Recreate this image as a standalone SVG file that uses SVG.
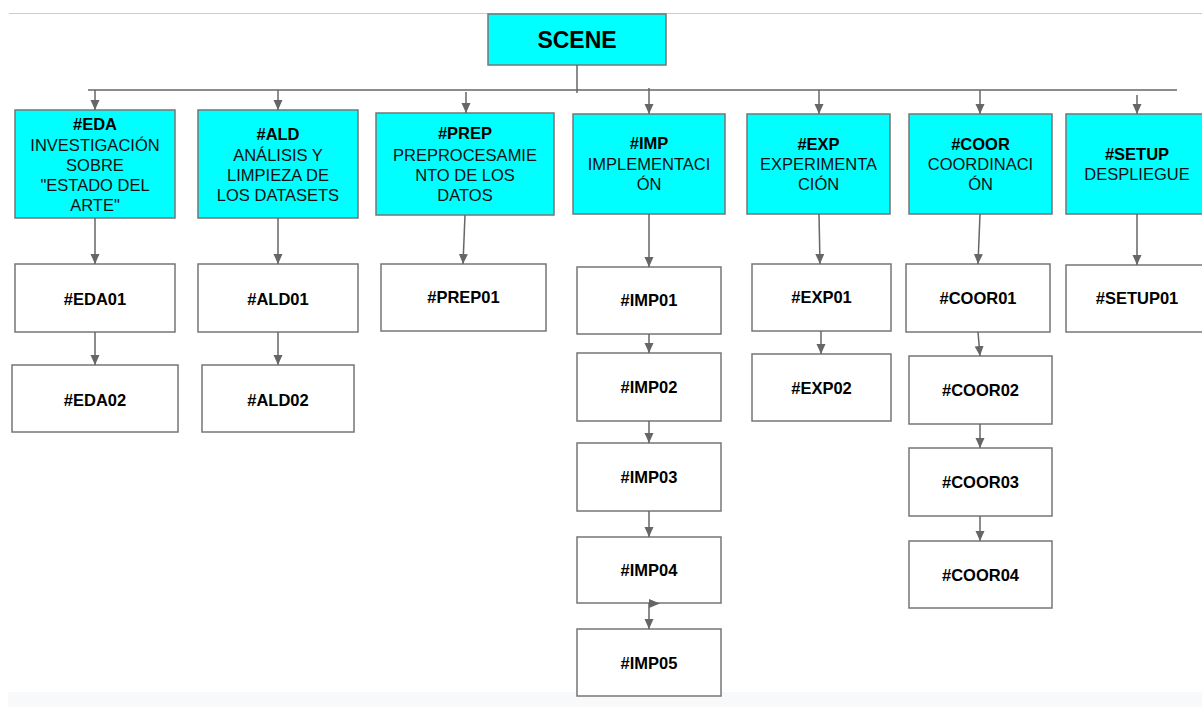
<svg xmlns="http://www.w3.org/2000/svg" width="1202" height="707" viewBox="0 0 1202 707">
  <style>
    .hdr { fill: #00ffff; stroke: #767676; stroke-width: 1.5; }
    .box { fill: #ffffff; stroke: #767676; stroke-width: 1.5; }
    .t { font-family: "Liberation Sans", Arial, sans-serif; font-size: 16.5px; text-anchor: middle; fill: #111; }
    .b { font-weight: bold; fill: #000; }
    .conn { stroke: #666666; stroke-width: 1.5; fill: none; }
    .link { marker-end: url(#arrow); }
  </style>
  <defs>
    <marker id="arrow" markerUnits="userSpaceOnUse" markerWidth="10" markerHeight="10" refX="10" refY="4.5" orient="auto">
      <path d="M0,0 L10,4.5 L0,9 Z" fill="#666666"/>
    </marker>
  </defs>

  <rect x="0" y="0" width="1202" height="707" fill="#ffffff"/>
  <line x1="9" y1="13.5" x2="1202" y2="13.5" stroke="#cccccc" stroke-width="1"/>
  <rect x="8" y="692" width="1194" height="15" fill="#f8f9fa"/>

  <g id="scene">
    <rect class="hdr" x="488" y="14" width="178" height="51"/>
    <text class="t b" x="577" y="48" style="font-size:23px">SCENE</text>
  </g>

  <g id="eda">
    <rect class="hdr" x="15" y="110" width="160" height="108"/>
    <text class="t b" x="95" y="130">#EDA</text>
    <text class="t" x="95" y="151">INVESTIGACIÓN</text>
    <text class="t" x="95" y="171">SOBRE</text>
    <text class="t" x="95" y="191">"ESTADO DEL</text>
    <text class="t" x="95" y="211">ARTE"</text>
  </g>
  <g id="ald">
    <rect class="hdr" x="198" y="110" width="160" height="108"/>
    <text class="t b" x="278" y="140">#ALD</text>
    <text class="t" x="278" y="161">ANÁLISIS Y</text>
    <text class="t" x="278" y="181">LIMPIEZA DE</text>
    <text class="t" x="278" y="201">LOS DATASETS</text>
  </g>
  <g id="prep">
    <rect class="hdr" x="376" y="113" width="178" height="102"/>
    <text class="t b" x="465" y="139">#PREP</text>
    <text class="t" x="465" y="161">PREPROCESAMIE</text>
    <text class="t" x="465" y="181">NTO DE LOS</text>
    <text class="t" x="465" y="201">DATOS</text>
  </g>
  <g id="imp">
    <rect class="hdr" x="573" y="114" width="152" height="100"/>
    <text class="t b" x="649" y="149">#IMP</text>
    <text class="t" x="649" y="170">IMPLEMENTACI</text>
    <text class="t" x="649" y="190">ÓN</text>
  </g>
  <g id="exp">
    <rect class="hdr" x="747" y="114" width="143" height="100"/>
    <text class="t b" x="818.5" y="150">#EXP</text>
    <text class="t" x="818.5" y="170">EXPERIMENTA</text>
    <text class="t" x="818.5" y="190">CIÓN</text>
  </g>
  <g id="coor">
    <rect class="hdr" x="909" y="114" width="143" height="100"/>
    <text class="t b" x="980.5" y="150">#COOR</text>
    <text class="t" x="980.5" y="170">COORDINACI</text>
    <text class="t" x="980.5" y="190">ÓN</text>
  </g>
  <g id="setup">
    <rect class="hdr" x="1066" y="114" width="143" height="100"/>
    <text class="t b" x="1137" y="160">#SETUP</text>
    <text class="t" x="1137" y="180">DESPLIEGUE</text>
  </g>

  <g id="eda01"><rect class="box" x="15" y="264" width="160" height="68"/><text class="t b" x="95" y="305">#EDA01</text></g>
  <g id="eda02"><rect class="box" x="12" y="365" width="166" height="67"/><text class="t b" x="95" y="406">#EDA02</text></g>
  <g id="ald01"><rect class="box" x="198" y="264" width="160" height="68"/><text class="t b" x="278" y="305">#ALD01</text></g>
  <g id="ald02"><rect class="box" x="202" y="365" width="152" height="67"/><text class="t b" x="278" y="406">#ALD02</text></g>
  <g id="prep01"><rect class="box" x="381" y="264" width="165" height="67"/><text class="t b" x="463.5" y="303">#PREP01</text></g>

  <g id="imp01"><rect class="box" x="577" y="267" width="144" height="67"/><text class="t b" x="649" y="306">#IMP01</text></g>
  <g id="imp02"><rect class="box" x="577" y="353" width="144" height="68"/><text class="t b" x="649" y="393">#IMP02</text></g>
  <g id="imp03"><rect class="box" x="577" y="443" width="144" height="68"/><text class="t b" x="649" y="483">#IMP03</text></g>
  <g id="imp04"><rect class="box" x="577" y="537" width="144" height="66"/><text class="t b" x="649" y="576">#IMP04</text></g>
  <g id="imp05"><rect class="box" x="577" y="629" width="144" height="67"/><text class="t b" x="649" y="669">#IMP05</text></g>

  <g id="exp01"><rect class="box" x="752" y="264" width="139" height="67"/><text class="t b" x="821.5" y="303">#EXP01</text></g>
  <g id="exp02"><rect class="box" x="752" y="354" width="139" height="67"/><text class="t b" x="821.5" y="394">#EXP02</text></g>

  <g id="coor01"><rect class="box" x="906" y="264" width="144" height="68"/><text class="t b" x="978" y="304">#COOR01</text></g>
  <g id="coor02"><rect class="box" x="909" y="356" width="143" height="68"/><text class="t b" x="980.5" y="396">#COOR02</text></g>
  <g id="coor03"><rect class="box" x="909" y="448" width="143" height="68"/><text class="t b" x="980.5" y="488">#COOR03</text></g>
  <g id="coor04"><rect class="box" x="909" y="541" width="143" height="67"/><text class="t b" x="980.5" y="581">#COOR04</text></g>

  <g id="setup01"><rect class="box" x="1066" y="265" width="143" height="67"/><text class="t b" x="1137" y="304">#SETUP01</text></g>

  <!-- connectors drawn on top so the start marker of IMP04→IMP05 shows over the box edge -->
  <g id="connectors">
    <line class="conn" x1="577" y1="65" x2="577" y2="93"/>
    <line class="conn" x1="88" y1="90" x2="1177" y2="90"/>
    <line class="conn link" x1="95" y1="90" x2="95" y2="110"/>
    <line class="conn link" x1="278" y1="90" x2="278" y2="110"/>
    <line class="conn link" x1="466" y1="92" x2="466" y2="113"/>
    <line class="conn link" x1="649" y1="88" x2="649" y2="114"/>
    <line class="conn link" x1="819" y1="90" x2="819" y2="114"/>
    <line class="conn link" x1="980" y1="90" x2="980" y2="114"/>
    <line class="conn link" x1="1137" y1="95" x2="1137" y2="114"/>

    <line class="conn link" x1="95" y1="218" x2="95" y2="264"/>
    <line class="conn link" x1="95" y1="332" x2="95" y2="365"/>
    <line class="conn link" x1="278" y1="218" x2="278" y2="264"/>
    <line class="conn link" x1="278" y1="332" x2="278" y2="365"/>
    <line class="conn link" x1="465" y1="215" x2="463" y2="264"/>

    <line class="conn link" x1="649" y1="214" x2="649" y2="267"/>
    <line class="conn link" x1="649" y1="334" x2="649" y2="353"/>
    <line class="conn link" x1="649" y1="421" x2="649" y2="443"/>
    <line class="conn link" x1="649" y1="511" x2="649" y2="537"/>
    <line class="conn link" x1="649" y1="603" x2="649" y2="629"/>
    <path d="M649,599 L660,603.5 L649,608 Z" fill="#666666"/>

    <line class="conn link" x1="819" y1="214" x2="820" y2="264"/>
    <line class="conn link" x1="821" y1="331" x2="821" y2="354"/>

    <line class="conn link" x1="980" y1="214" x2="978" y2="264"/>
    <line class="conn link" x1="978" y1="332" x2="980" y2="356"/>
    <line class="conn link" x1="980" y1="424" x2="980" y2="448"/>
    <line class="conn link" x1="980" y1="516" x2="980" y2="541"/>

    <line class="conn link" x1="1137" y1="214" x2="1137" y2="265"/>
  </g>
</svg>
